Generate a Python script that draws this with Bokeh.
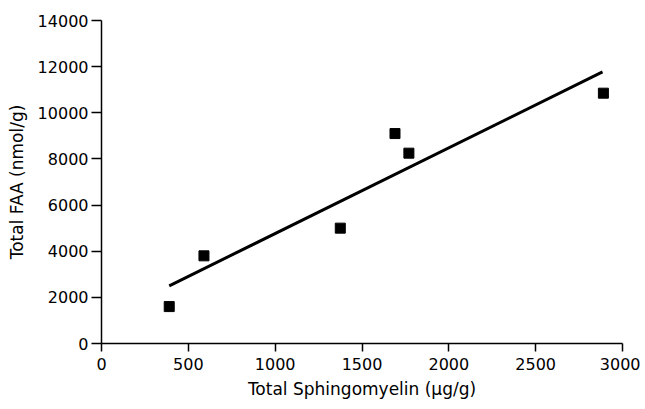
from bokeh.plotting import figure
from bokeh.models import Range1d, FixedTicker, ColumnDataSource
from bokeh.embed import file_html
from bokeh.resources import INLINE

# Data
sphingomyelin = [390, 590, 1375, 1690, 1770, 2890]
total_faa = [1600, 3800, 5000, 9100, 8250, 10850]

# Regression line end points (as drawn)
fit_x = [390, 2885]
fit_y = [2500, 11770]

x_ticks = [0, 500, 1000, 1500, 2000, 2500, 3000]
y_ticks = [0, 2000, 4000, 6000, 8000, 10000, 12000, 14000]

FONT = "DejaVu Sans"

p = figure(width=640, height=405, output_backend="svg", toolbar_location=None,
           x_range=Range1d(0, 3000), y_range=Range1d(0, 14000),
           min_border_left=101, min_border_right=18, min_border_top=20,
           min_border_bottom=62)
p.outline_line_color = None
p.xgrid.visible = False
p.ygrid.visible = False
p.background_fill_color = "white"
p.border_fill_color = "white"

src = ColumnDataSource(dict(x=sphingomyelin, y=total_faa))
p.line(fit_x, fit_y, line_color="black", line_width=3)
p.scatter("x", "y", source=src, marker="square", size=10, fill_color="black",
          line_color="black")

for ax, ticks in ((p.xaxis[0], x_ticks), (p.yaxis[0], y_ticks)):
    ax.ticker = FixedTicker(ticks=ticks)
    ax.minor_tick_line_color = None
    ax.major_tick_in = 0
    ax.axis_line_color = "black"
    ax.axis_line_width = 1.5
    ax.major_tick_line_color = "black"
    ax.major_tick_line_width = 1.5
    ax.major_label_text_font = FONT
    ax.major_label_text_font_size = "16px"
    ax.major_label_text_color = "black"
    ax.axis_label_text_font = FONT
    ax.axis_label_text_font_size = "17px"
    ax.axis_label_text_font_style = "normal"
    ax.axis_label_text_color = "black"

p.xaxis.major_tick_out = 8
p.yaxis.major_tick_out = 10
p.xaxis.major_label_standoff = 6
p.yaxis.major_label_standoff = 3

p.xaxis.axis_label = "Total Sphingomyelin (\u00b5g/g)"
p.yaxis.axis_label = "Total FAA (nmol/g)"
p.xaxis.axis_label_standoff = 6
p.yaxis.axis_label_standoff = 8

open("out.html", "w").write(file_html(p, INLINE))
